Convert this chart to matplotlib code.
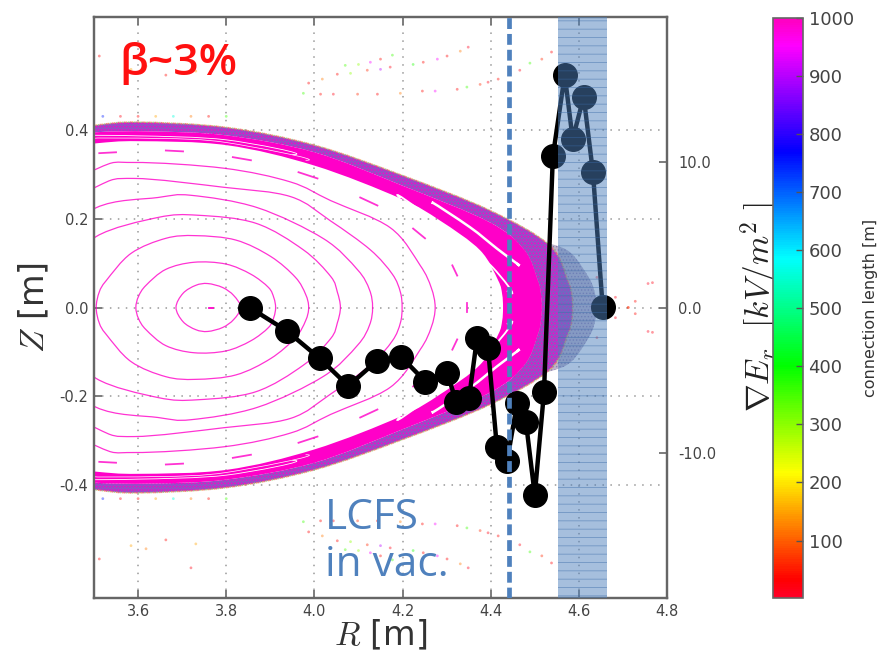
import numpy as np
import matplotlib
matplotlib.use("Agg")
import matplotlib.pyplot as plt
from matplotlib.path import Path
from matplotlib.patches import PathPatch
from matplotlib.cm import ScalarMappable
from matplotlib.colors import Normalize

plt.rcParams['mathtext.fontset'] = 'cm'
plt.rcParams['hatch.linewidth'] = 0.6

# gradient profile (right axis)
profile_R = [3.853,3.937,4.012,4.077,4.141,4.197,4.252,4.301,4.322,4.351,4.369,4.394,
             4.414,4.437,4.460,4.480,4.500,4.521,4.541,4.568,4.586,4.611,4.632,4.654]
profile_E = [0,-1.6,-3.5,-5.4,-3.7,-3.4,-5.1,-4.5,-6.5,-6.2,-2.1,-2.8,
             -9.6,-10.6,-6.6,-7.9,-12.9,-5.8,10.4,16.0,11.6,14.5,9.3,0.05]

lcfs_R = 4.442
span_R = (4.553, 4.664)

# closed flux surfaces, upper half (mirrored in Z)
surfaces = [
 ([3.686,3.702,3.731,3.758,3.792,3.817,3.833],[0,.032,.050,.054,.045,.027,0]),
 ([3.595,3.601,3.618,3.663,3.727,3.799,3.856,3.896,3.908,3.912],[0,.025,.050,.086,.102,.098,.075,.045,.022,0]),
 ([3.505,3.512,3.528,3.584,3.663,3.731,3.822,3.901,3.957,3.980,3.987],[0,.035,.061,.122,.156,.162,.152,.115,.068,.030,0]),
 ([3.42,3.44,3.505,3.645,3.736,3.867,3.975,4.037,4.052,4.059],[0,.08,.160,.203,.208,.190,.130,.070,.035,0]),
 ([3.35,3.39,3.505,3.645,3.720,3.871,4.021,4.098,4.125,4.132],[0,.13,.225,.248,.253,.225,.155,.085,.040,0]),
 ([3.30,3.34,3.505,3.591,3.795,3.946,4.037,4.127,4.177,4.195,4.199],[0,.17,.272,.291,.271,.250,.195,.130,.075,.035,0]),
 ([3.27,3.31,3.505,3.591,3.795,3.946,4.037,4.172,4.240,4.265,4.274],[0,.20,.312,.327,.314,.283,.241,.180,.095,.045,0]),
]
# island chain fragments, upper half
island_R = [(3.512,3.550),(3.663,3.702),(3.815,3.856),(3.964,4.007),(4.104,4.143),(4.224,4.251),(4.313,4.324)]
island_Z = [(.348,.350),(.354,.352),(.339,.332),(.305,.291),(.248,.230),(.178,.156),(.095,.072)]

# stochastic band outlines, upper half
outer_R = [3.20,3.25,3.40,3.503,3.600,3.801,4.000,4.199,4.398,4.534,4.575,4.584,4.586]
outer_Z = [0,.30,.395,.411,.418,.406,.366,.298,.219,.140,.061,.03,0]
mid_R = [3.20,3.25,3.40,3.503,3.629,3.801,4.000,4.199,4.398,4.477,4.507,4.514,4.516]
mid_Z = [0,.28,.382,.395,.397,.388,.350,.275,.192,.129,.061,.03,0]
inner_R = [3.20,3.25,3.40,3.503,3.600,3.801,4.000,4.195,4.285,4.376,4.417,4.426,4.428]
inner_Z = [0,.26,.358,.370,.375,.366,.320,.246,.196,.129,.061,.03,0]
lobe_R = [4.47,4.45,4.534,4.583,4.624,4.637,4.640]
lobe_Z = [0,.16,.144,.122,.065,.03,0]

# gaps in the band
gap_lines = [
 ([4.269,4.353,4.414,4.459],[.235,.181,.133,.099],1.8),
 ([4.195,4.263,4.337,4.405,4.437],[.246,.203,.144,.090,.038],1.3),
 ([3.50,3.60,3.80,3.95],[.384,.387,.378,.345],0.6),
 ([3.50,3.65,3.80,3.98],[.377,.381,.372,.332],0.5),
]

# stray field line punctures, upper half (mirrored in Z)
stray_R = [3.987,4.018,4.052,4.082,4.120,4.150,4.172,4.224,4.247,4.279,4.301,4.331,4.349,
           4.070,4.100,4.127,4.150,4.177,
           3.975,4.014,4.043,4.098,4.143,4.195,4.245,4.274,4.324,4.346,4.376,4.394,4.417,4.444,
           4.466,4.489,4.516,4.538,
           4.641,4.683,4.712,4.757,4.728,4.767,
           3.663,3.731,3.512,3.720,3.584,3.618,
           3.52,3.56,3.60,3.64,3.68,3.72,3.76,3.80]
stray_Z = [.506,.515,.526,.528,.535,.537,.542,.548,.553,.560,.567,.578,.587,
           .546,.548,.553,.560,.569,
           .483,.481,.481,.481,.481,.483,.488,.488,.492,.497,.503,.508,.515,.528,
           .535,.551,.560,.576,
           .068,.023,0,.054,.014,.056,
           .524,.533,.567,.587,.537,.544,
           .431,.431,.431,.431,.431,.431,.431,.431]
stray_len = [30,120,40,300,60,900,20,380,40,950,30,120,10,
             350,300,950,40,360,
             360,40,20,60,30,120,40,950,30,360,60,20,40,30,
             20,360,60,30,
             30,20,60,10,40,20,
             40,150,30,20,150,120,
             750,20,30,150,560,120,40,360]

x_ticks = [3.6,3.8,4.0,4.2,4.4,4.6,4.8]
z_ticks = [-0.4,-0.2,0.0,0.2,0.4]
e_ticks = [-10,0,10]
e_labels = ['-10.0','0.0','10.0']
cb_ticks = [100,200,300,400,500,600,700,800,900,1000]

W, H = 885, 664
fig = plt.figure(figsize=(W/100, H/100), dpi=100)
ax = fig.add_axes([94/W, 1-598/H, 573/W, 581/H])

def closed_curve(r, z):
    pts = list(zip(r, z)) + list(zip(r[-2:0:-1], [-v for v in z[-2:0:-1]]))
    return np.array(pts)

def spline_path(pts):
    n = len(pts)
    verts = [pts[0]]; codes = [Path.MOVETO]
    for i in range(n):
        p0, p1, p2, p3 = pts[i-1], pts[i], pts[(i+1) % n], pts[(i+2) % n]
        verts += [p1+(p2-p0)/6, p2-(p3-p1)/6, p2]
        codes += [Path.CURVE4]*3
    return Path(np.array(verts), codes)

PINK = '#ff00c8'
PURPLE = '#9a4cc6'

ax.grid(True, color='#999999', ls=(0,(1,4.2)), lw=1.1, zorder=1)
ax.set_axisbelow(True)

lobe = spline_path(closed_curve(lobe_R, lobe_Z))
ax.add_patch(PathPatch(lobe, fc='#bdb4ca', ec='none', zorder=2))
ax.add_patch(PathPatch(lobe, fc='none', ec='#8f7fb0', lw=0, hatch='.....', zorder=2))

def ring(a, b):
    pa = spline_path(closed_curve(a[0], a[1]))
    pb = spline_path(closed_curve(b[0], b[1]))
    v = np.vstack([pa.vertices, pb.vertices[::-1]])
    c = list(pa.codes) + [Path.MOVETO] + list(pb.codes[1:])
    return Path(v, c)

outer_path = spline_path(closed_curve(outer_R, outer_Z))
ax.add_patch(PathPatch(ring((outer_R,outer_Z),(mid_R,mid_Z)), fc=PURPLE, ec='none', zorder=3))
ax.add_patch(PathPatch(ring((outer_R,outer_Z),(mid_R,mid_Z)), fc='none', ec='#ff00c8', lw=0, hatch='.....', zorder=3.1))
ax.add_patch(PathPatch(ring((mid_R,mid_Z),(inner_R,inner_Z)), fc=PINK, ec='none', zorder=3.2))
for col, off in (('#f0a050',0),('#a8d070',2.5),('#f07070',1.2)):
    ax.add_patch(PathPatch(outer_path, fc='none', ec=col, lw=1.1, ls=(off,(1,3)), alpha=.8, zorder=3.3))

for r, z, lw in gap_lines:
    for s in (1,-1):
        p = spline_path(np.array(list(zip(r,[s*v for v in z]))))
        n = 3*(len(r)-1)+1
        ax.add_patch(PathPatch(Path(p.vertices[:n], p.codes[:n]), fc='none', ec='white', lw=lw, zorder=3.5))

for r, z in surfaces:
    ax.add_patch(PathPatch(spline_path(closed_curve(r,z)), fc='none', ec=PINK, lw=0.9, alpha=.8, zorder=2.5))
for r, z in zip(island_R, island_Z):
    for s in (1,-1):
        ax.plot(r, [s*v for v in z], color=PINK, lw=1.3, alpha=.8, zorder=2.5)
ax.plot([4.346,4.346],[-.011,.011], color=PINK, lw=1.3, alpha=.8, zorder=2.5)
ax.plot([3.760,3.770],[0,0], color=PINK, lw=1.3, zorder=2.5)

norm = Normalize(1, 1000)
for s in (1,-1):
    ax.scatter(stray_R, [s*v for v in stray_Z], c=stray_len, cmap='gist_rainbow', norm=norm,
               s=4, linewidths=0, alpha=.4, zorder=2)

ax.set_xlim(3.5, 4.8)
ax.set_ylim(-0.655, 0.655)
ax.set_xticks(x_ticks)
ax.set_yticks(z_ticks)
ax.set_xticklabels([f'{v:.1f}' for v in x_ticks])
ax.set_yticklabels([f'{v:.1f}' for v in z_ticks])
ax.tick_params(direction='in', top=True, length=6, width=1.2, color='#666666',
               labelsize=10.5, labelcolor='#444444', pad=4)
for sp in ax.spines.values():
    sp.set_color('#666666'); sp.set_linewidth(1.6)
ax.set_xlabel(r'$R$ [m]', fontsize=24, color='#333333', labelpad=0)
ax.set_ylabel(r'$Z$ [m]', fontsize=24, color='#333333', labelpad=6)

ax.text(3.558, 0.525, 'β~3%', color='#ff1010', fontsize=32, family='Open Sans', weight='semibold', va='baseline', ha='left', zorder=8)
ax.text(4.023, -0.50, 'LCFS', color='#4f81bd', fontsize=30.5, family='Open Sans', va='baseline', ha='left', zorder=8)
ax.text(4.023, -0.606, 'in vac.', color='#4f81bd', fontsize=30.5, family='Open Sans', va='baseline', ha='left', zorder=8)

ax2 = ax.twinx()
ax2.set_ylim(-20, 20)
ax2.set_yticks(e_ticks)
ax2.set_yticklabels(e_labels)
ax2.tick_params(direction='in', length=6, width=1.2, color='#666666', labelsize=10.5, labelcolor='#444444', pad=8)
for sp in ax2.spines.values():
    sp.set_color('#666666'); sp.set_linewidth(1.6)
ax2.plot(profile_R, profile_E, '-o', color='black', lw=3.2, ms=17, zorder=4)
ax2.axvspan(span_R[0], span_R[1], facecolor='#4f81bd', edgecolor='#3a6aa8', lw=0, alpha=.5, hatch='--', zorder=5)
ax2.axvline(lcfs_R, color='#4f81bd', lw=3.4, ls=(0,(2.3,1.05)), zorder=6)
ax2.set_ylabel(r'$\nabla E_r\ \ [kV/m^2\ ]$', fontsize=24, color='#222222', labelpad=16)

cax = fig.add_axes([773/W, 1-598/H, 30/W, 580/H])
sm = ScalarMappable(norm=norm, cmap='gist_rainbow')
cb = fig.colorbar(sm, cax=cax, ticks=cb_ticks)
cb.ax.tick_params(direction='in', length=5, width=1, color='#555555', labelsize=13, labelcolor='#444444', pad=4)
cb.outline.set_edgecolor('#666666'); cb.outline.set_linewidth(1.2)
cb.set_label('connection length [m]', fontsize=11.5, color='#333333', labelpad=7)

fig.savefig('out.png', dpi=100)
